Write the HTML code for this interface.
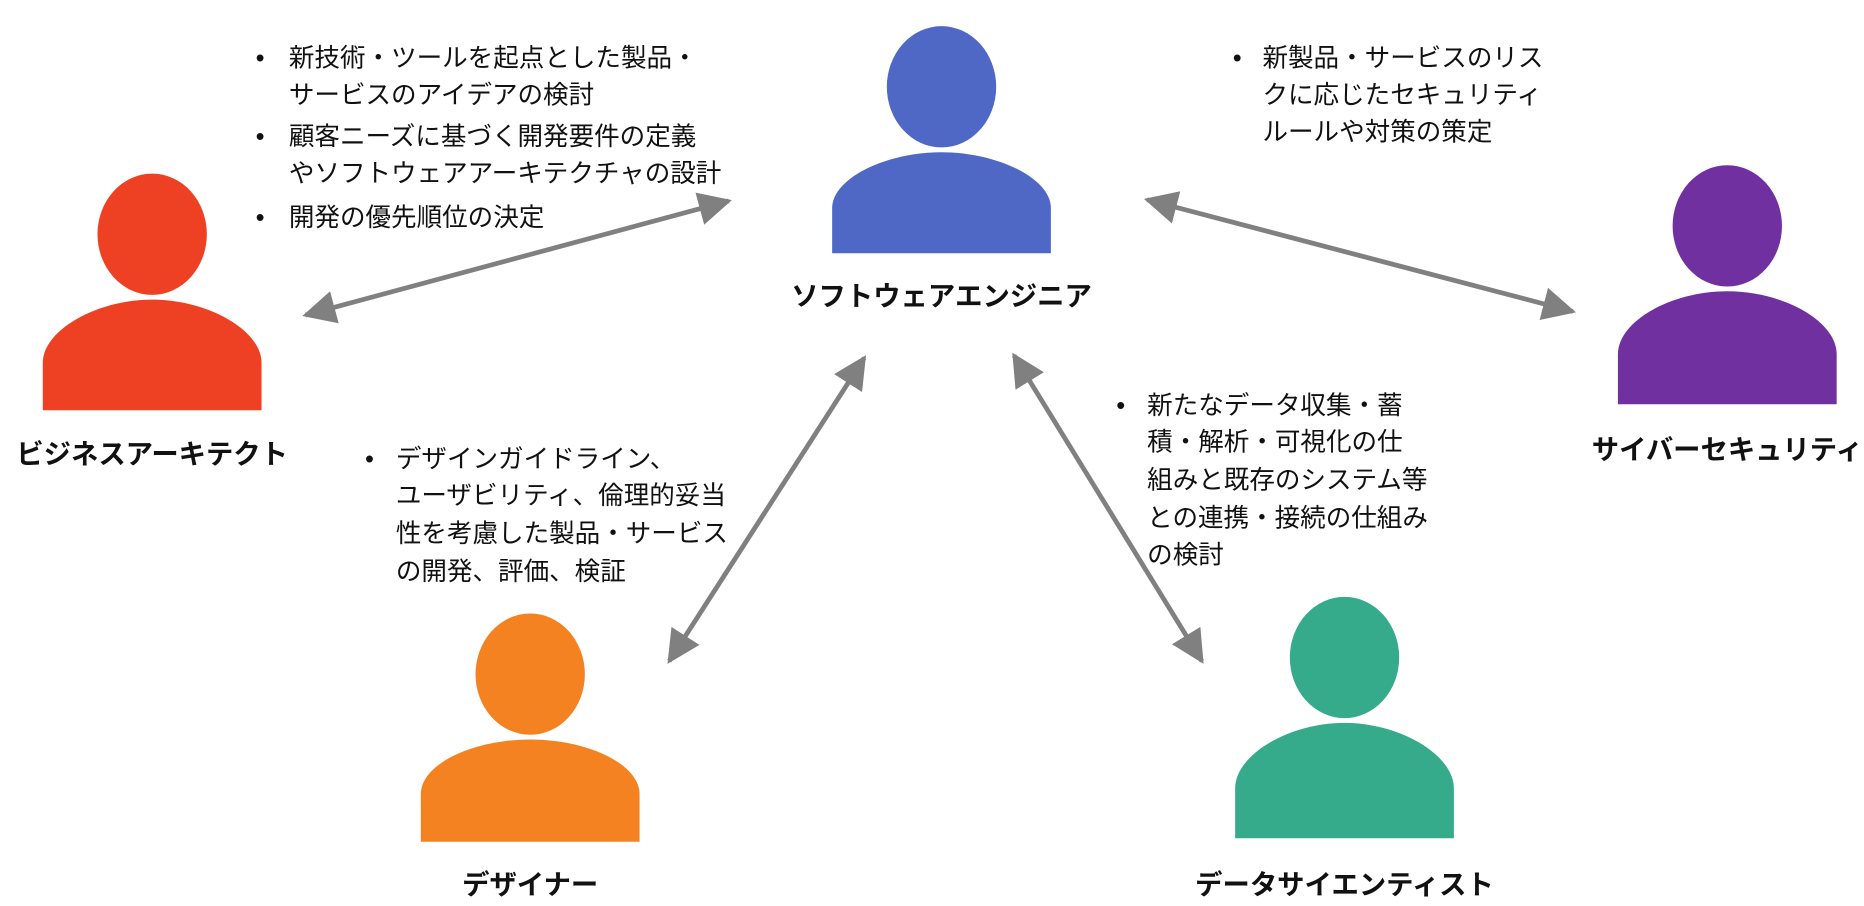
<!DOCTYPE html>
<html><head><meta charset="utf-8"><style>
html,body{margin:0;padding:0;background:#fff;}
svg{display:block;}
text{font-family:"Liberation Sans","Noto Sans CJK JP",sans-serif;fill:#111;}
.t{font-size:21.5px;}
.b{font-size:23px;font-weight:bold;}
</style></head><body>
<svg width="1864" height="906" viewBox="0 0 1568 762" preserveAspectRatio="none" xmlns="http://www.w3.org/2000/svg">
<defs>
<marker id="a" viewBox="0 0 10 10" refX="9" refY="5" markerWidth="7" markerHeight="7" orient="auto-start-reverse" markerUnits="strokeWidth">
<path d="M0,0 L10,5 L0,10 Z" fill="#808080"/></marker>
</defs>
<g stroke="#808080" stroke-width="4" marker-start="url(#a)" marker-end="url(#a)">
<line x1="257" y1="265" x2="613" y2="169"/>
<line x1="965" y1="168" x2="1323" y2="262"/>
<line x1="563" y1="556" x2="727" y2="301"/>
<line x1="853" y1="299" x2="1011" y2="556"/>
</g>
<g fill="#4F68C6"><ellipse cx="792" cy="73" rx="46" ry="51"/><path d="M700,213 V175 C700,150 745,128 792,128 C839,128 884,150 884,175 V213 Z"/></g>
<g fill="#EE4124"><ellipse cx="128" cy="197" rx="46" ry="51"/><path d="M36,345 V305 C36,278 81,252 128,252 C175,252 220,278 220,305 V345 Z"/></g>
<g fill="#7030A0"><ellipse cx="1453" cy="190" rx="46" ry="51"/><path d="M1361,340 V298 C1361,270 1406,245 1453,245 C1500,245 1545,270 1545,298 V340 Z"/></g>
<g fill="#F58220"><ellipse cx="446" cy="567" rx="46" ry="51"/><path d="M354,708 V668 C354,642 399,622 446,622 C493,622 538,642 538,668 V708 Z"/></g>
<g fill="#36AB8B"><ellipse cx="1131" cy="553" rx="46" ry="51"/><path d="M1039,705 V663 C1039,635 1084,608 1131,608 C1178,608 1223,635 1223,663 V705 Z"/></g>
<g text-anchor="middle">
<text class="b" x="792" y="257">ソフトウェアエンジニア</text>
<text class="b" x="128" y="390">ビジネスアーキテクト</text>
<text class="b" x="1453" y="386">サイバーセキュリティ</text>
<text class="b" x="446" y="752">デザイナー</text>
<text class="b" x="1131" y="752">データサイエンティスト</text>
</g>
<g>
<text class="t" x="215" y="56">•</text>
<text class="t" x="243" y="56">新技術・ツールを起点とした製品・</text>
<text class="t" x="243" y="87">サービスのアイデアの検討</text>
<text class="t" x="215" y="122">•</text>
<text class="t" x="243" y="122">顧客ニーズに基づく開発要件の定義</text>
<text class="t" x="243" y="153">やソフトウェアアーキテクチャの設計</text>
<text class="t" x="215" y="190">•</text>
<text class="t" x="243" y="190">開発の優先順位の決定</text>

<text class="t" x="1037" y="56">•</text>
<text class="t" x="1062" y="56">新製品・サービスのリス</text>
<text class="t" x="1062" y="87">クに応じたセキュリティ</text>
<text class="t" x="1062" y="118">ルールや対策の策定</text>

<text class="t" x="307" y="393">•</text>
<text class="t" x="333" y="393">デザインガイドライン、</text>
<text class="t" x="333" y="424">ユーザビリティ、倫理的妥当</text>
<text class="t" x="333" y="456">性を考慮した製品・サービス</text>
<text class="t" x="333" y="488">の開発、評価、検証</text>

<text class="t" x="939" y="348">•</text>
<text class="t" x="965" y="348">新たなデータ収集・蓄</text>
<text class="t" x="965" y="379">積・解析・可視化の仕</text>
<text class="t" x="965" y="411">組みと既存のシステム等</text>
<text class="t" x="965" y="443">との連携・接続の仕組み</text>
<text class="t" x="965" y="474">の検討</text>
</g>
</svg>
</body></html>
